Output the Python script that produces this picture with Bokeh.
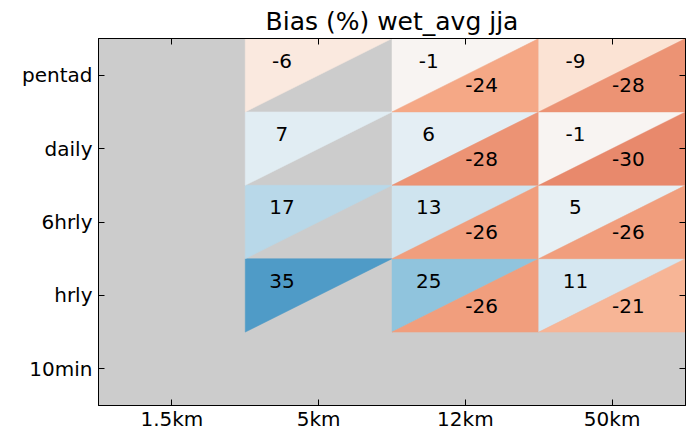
import math
import numpy as np
from bokeh.plotting import figure
from bokeh.models import ColumnDataSource, LinearColorMapper, FixedTicker, LinearAxis, Range1d
from bokeh.transform import transform
from bokeh.core.properties import value
from bokeh.embed import file_html
from bokeh.resources import INLINE

# ---------------- data ----------------
resolutions = ["1.5km", "5km", "12km", "50km"]
periods = ["10min", "hrly", "6hrly", "daily", "pentad"]
nan = float("nan")
# upper-left triangle values (rows follow periods, columns follow resolutions)
upper_bias = [
    [nan, nan, nan, nan],   # 10min
    [nan, 35, 25, 11],      # hrly
    [nan, 17, 13, 5],       # 6hrly
    [nan, 7, 6, -1],        # daily
    [nan, -6, -1, -9],      # pentad
]
# lower-right triangle values
lower_bias = [
    [nan, nan, nan, nan],   # 10min
    [nan, nan, -26, -21],   # hrly
    [nan, nan, -26, -26],   # 6hrly
    [nan, nan, -28, -30],   # daily
    [nan, nan, -24, -28],   # pentad
]
title_text = "Bias (%) wet_avg jja"

# ---------------- colour map (RdBu) ----------------
rdbu = ["#67001f", "#b2182b", "#d6604d", "#f4a582", "#fddbc7", "#f7f7f7",
        "#d1e5f0", "#92c5de", "#4393c3", "#2166ac", "#053061"]
def hex2rgb(h):
    return np.array([int(h[k:k + 2], 16) for k in (1, 3, 5)], dtype=float)
anchors = np.array([hex2rgb(c) for c in rdbu])
pos = np.linspace(0, 1, len(rdbu))
palette = []
for t in np.linspace(0, 1, 256):
    rgb = [np.interp(t, pos, anchors[:, k]) for k in range(3)]
    palette.append("#%02x%02x%02x" % tuple(int(round(v)) for v in rgb))
mapper = LinearColorMapper(palette=palette, low=-62, high=62)

# ---------------- geometry from data ----------------
xs, ys, vals = [], [], []
tx, ty, tt = [], [], []
for j, per in enumerate(periods):
    for i, res in enumerate(resolutions):
        u = upper_bias[j][i]
        l = lower_bias[j][i]
        if not math.isnan(u):
            xs.append([i, i, i + 1]); ys.append([j, j + 1, j + 1]); vals.append(u)
            tx.append(i + 0.25); ty.append(j + 0.70); tt.append("%d" % u)
        if not math.isnan(l):
            xs.append([i, i + 1, i + 1]); ys.append([j, j, j + 1]); vals.append(l)
            tx.append(i + 0.61); ty.append(j + 0.36); tt.append("%d" % l)

tri_src = ColumnDataSource(dict(xs=xs, ys=ys, val=vals))
txt_src = ColumnDataSource(dict(x=tx, y=ty, text=tt))

p = figure(width=686, height=433, x_range=Range1d(0, len(resolutions)),
           y_range=Range1d(0, len(periods)), output_backend="svg",
           toolbar_location=None, min_border_left=98, min_border_right=1,
           min_border_top=38, min_border_bottom=0,
           background_fill_color="#cccccc", border_fill_color="white",
           title=title_text)
p.title.align = "center"
p.title.text_font = "DejaVu Sans"
p.title.text_font_size = "25px"
p.title.text_font_style = "normal"
p.title.text_color = "#000000"
p.title.standoff = 6

p.patches("xs", "ys", source=tri_src, fill_color=transform("val", mapper),
          line_color=transform("val", mapper), line_width=0.5)
p.text("x", "y", text="text", source=txt_src, text_align="center",
       text_baseline="middle", text_font=value("DejaVu Sans"),
       text_font_size="20px", text_color="#000000")

p.xgrid.visible = False
p.ygrid.visible = False
p.outline_line_color = "black"
p.outline_line_width = 1

xticks = [i + 0.5 for i in range(len(resolutions))]
yticks = [j + 0.5 for j in range(len(periods))]
p.xaxis.ticker = FixedTicker(ticks=xticks)
p.yaxis.ticker = FixedTicker(ticks=yticks)
p.xaxis.major_label_overrides = {t: lab for t, lab in zip(xticks, resolutions)}
p.yaxis.major_label_overrides = {t: lab for t, lab in zip(yticks, periods)}

for ax in (p.xaxis[0], p.yaxis[0]):
    ax.major_tick_in = 6
    ax.major_tick_out = 0
    ax.minor_tick_line_color = None
    ax.axis_line_color = "black"
    ax.major_tick_line_color = "black"
    ax.major_label_text_font = "DejaVu Sans"
    ax.major_label_text_font_size = "20px"
    ax.major_label_text_color = "#000000"
p.yaxis[0].major_label_standoff = 6
p.xaxis[0].major_label_standoff = 1

top_ax = LinearAxis(ticker=FixedTicker(ticks=xticks), major_tick_in=6, major_tick_out=0,
                    minor_tick_line_color=None, major_label_text_font_size="1px",
                    major_label_overrides={t: "" for t in xticks},
                    major_label_standoff=0, axis_line_color="black")
right_ax = LinearAxis(ticker=FixedTicker(ticks=yticks), major_tick_in=6, major_tick_out=0,
                      minor_tick_line_color=None, major_label_text_font_size="1px",
                      major_label_overrides={t: "" for t in yticks},
                      major_label_standoff=0, axis_line_color="black")
p.add_layout(top_ax, "above")
p.add_layout(right_ax, "right")

open("out.html", "w").write(file_html(p, INLINE))
